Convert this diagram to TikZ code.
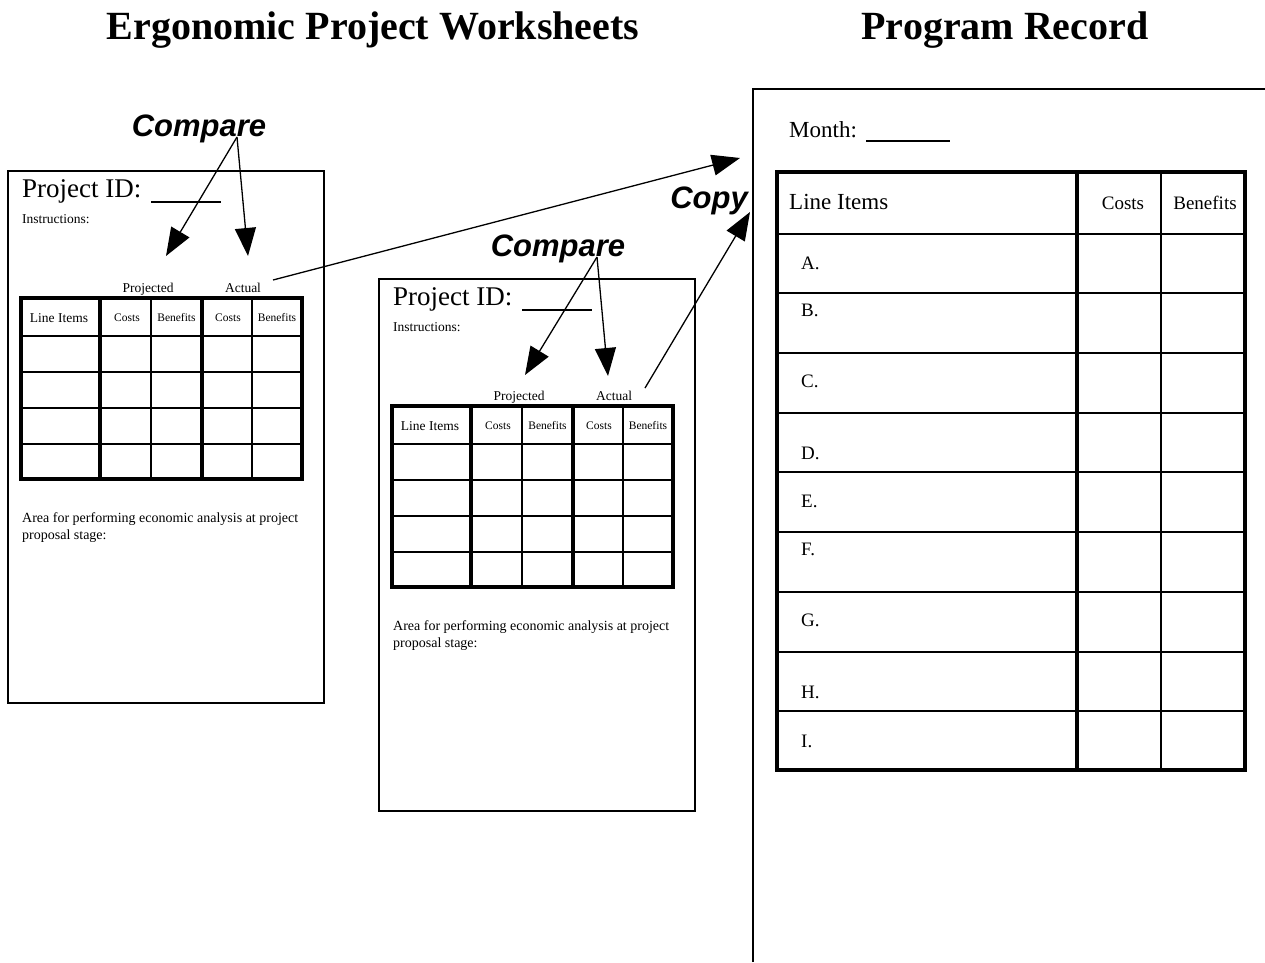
\documentclass[tikz,border=0pt]{standalone}
\usepackage{fontspec}
\setmainfont{Liberation Serif}
\newfontfamily\cmpfont{Liberation Sans}
\usetikzlibrary{arrows.meta}
\newcommand\fsz[1]{\fontsize{#1}{#1}\selectfont}
\newcommand\wsheet[3]{%
\begin{scope}[shift={(#2,#3)}]
  \draw[sheetln] (8,171) rectangle (324,703);
  \node[txt, font=\fsz{27}] (#1id) at (22,197) {Project ID:};
  \draw[thinln] (151,202) -- (221,202);
  \node[txt, font=\fsz{13.5}] (#1ins) at (22,223) {Instructions:};
  \node[ctxt, font=\fsz{13.5}] (#1proj) at (148,292) {Projected};
  \node[ctxt, font=\fsz{13.5}] (#1act) at (243,292) {Actual};
  \foreach \y in {336,372,408,444} \draw[midln] (21,\y) -- (302,\y);
  \foreach \x in {151,252} \draw[thinln] (\x,298) -- (\x,479);
  \foreach \x in {100,202} \draw[thickln] (\x,298) -- (\x,479);
  \draw[outerln] (21,298) rectangle (302,479);
  \node[ctxt, font=\fsz{13.5}] (#1li) at (59,322) {Line Items};
  \node[ctxt, font=\fsz{11.5}] (#1c1) at (127,321) {Costs};
  \node[ctxt, font=\fsz{11.5}] (#1b1) at (176.5,321) {Benefits};
  \node[ctxt, font=\fsz{11.5}] (#1c2) at (228,321) {Costs};
  \node[ctxt, font=\fsz{11.5}] (#1b2) at (277,321) {Benefits};
  \node[txt, font=\fsz{14}] (#1area1) at (22,522) {Area for performing economic analysis at project};
  \node[txt, font=\fsz{14}] (#1area2) at (22,539) {proposal stage:};
\end{scope}}
\begin{document}
\begin{tikzpicture}[x=1pt,y=-1pt,
  sheetln/.style={line width=1.3pt},
  thinln/.style={line width=1.3pt},
  midln/.style={line width=2pt},
  thickln/.style={line width=3.5pt},
  outerln/.style={line width=4pt},
  txt/.style={inner sep=0pt, anchor=base west},
  ctxt/.style={inner sep=0pt, anchor=base},
  cmp/.style={inner sep=0pt, anchor=base, font=\cmpfont\bfseries\itshape\fsz{31}},
  bigarrow/.style={line width=1.3pt, -{Triangle[length=28pt,width=21pt]}}]
\useasboundingbox (0,0) rectangle (1265,962);
\fill[white] (0,0) rectangle (1265,962);

% titles
\node[ctxt, font=\bfseries\fsz{40}] (t1) at (373,39) {Ergonomic Project Worksheets};
\node[ctxt, font=\bfseries\fsz{40}] (t2) at (1005,39) {Program Record};

% worksheets
\wsheet{a}{0}{0}
\wsheet{b}{371}{108}

% compare labels and arrows
\node[cmp] (cmp1) at (199,136) {Compare};
\coordinate (ap1) at (237,137);
\coordinate (pa1) at (166,256);
\coordinate (aa1) at (248,256);
\draw[bigarrow] (ap1) -- (pa1);
\draw[bigarrow] (ap1) -- (aa1);

\node[cmp] (cmp2) at (558,256) {Compare};
\coordinate (ap2) at (597,257);
\coordinate (pa2) at (525,375);
\coordinate (aa2) at (608,376);
\draw[bigarrow] (ap2) -- (pa2);
\draw[bigarrow] (ap2) -- (aa2);

% copy
\node[cmp] (copy) at (709,208) {Copy};
\coordinate (cs1) at (273,280);
\coordinate (ce1) at (740,158);
\coordinate (cs2) at (645,388);
\coordinate (ce2) at (750,212);
\draw[bigarrow] (cs1) -- (ce1);
\draw[bigarrow] (cs2) -- (ce2);

% program record
\draw[sheetln] (753,962) -- (753,89) -- (1265,89);
\node[txt, font=\fsz{23}] (month) at (789,137) {Month:};
\draw[thinln] (866,141) -- (950,141);
\foreach \y in {234,293,353,413,472,532,592,652,711} \draw[midln] (777,\y) -- (1245,\y);
\draw[thinln] (1161,172) -- (1161,770);
\draw[outerln] (1077,172) -- (1077,770);
\draw[outerln] (777,172) rectangle (1245,770);
\node[txt, font=\fsz{23}] (pli) at (789,209) {Line Items};
\node[ctxt, font=\fsz{19}] (pc) at (1123,209) {Costs};
\node[ctxt, font=\fsz{19}] (pb) at (1205,209) {Benefits};
\foreach \l/\y in {A/263,B/310,C/381,D/453,E/501,F/549,G/620,H/692,I/741}
  \node[inner sep=0pt, anchor=west, font=\fsz{19}] (row\l) at (801,\y) {\l.};
\end{tikzpicture}
\end{document}
